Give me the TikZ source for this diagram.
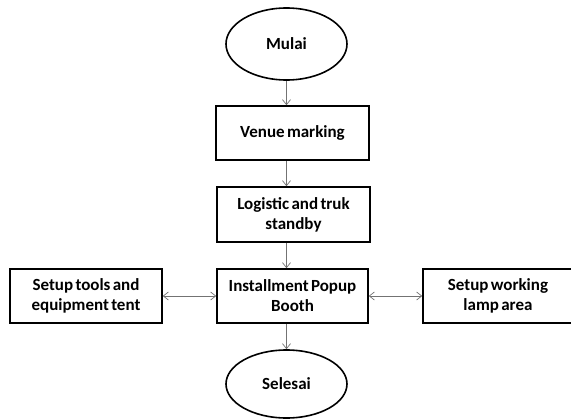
\documentclass[tikz,border=0pt]{standalone}
\usepackage{fontspec}
\setmainfont[WordSpace=0.6]{Carlito}
\usetikzlibrary{shapes.geometric,arrows.meta}
\begin{document}
\begin{tikzpicture}[x=1pt,y=-1pt,
  every node/.style={font=\bfseries\fontsize{17}{20}\selectfont, align=center, inner sep=0pt},
  term/.style={ellipse, draw=black, line width=1.6pt, minimum width=121pt},
  proc/.style={rectangle, draw=black, line width=1.6pt, minimum height=54pt},
  flow/.style={draw=black!55, line width=0.7pt, -{Straight Barb[length=5pt,width=8pt]}},
  both/.style={draw=black!55, line width=0.7pt, {Straight Barb[length=5pt,width=8pt]}-{Straight Barb[length=5pt,width=8pt]}}
]
\useasboundingbox (0,0) rectangle (571,420);

\node[term, minimum height=72pt] (mulai) at (286.5,44) {Mulai};
\node[proc, minimum width=153pt] (venue) at (292.5,133) {Venue marking};
\node[proc, minimum width=153pt, minimum height=55pt] (logistic) at (293.5,214.5) {Logistic and truk\\standby};
\node[proc, minimum width=151pt] (install) at (292.5,296) {Installment Popup\\Booth};
\node[proc, minimum width=152pt] (tools) at (86,296) {Setup tools and\\equipment tent};
\node[proc, minimum width=150pt] (lamp) at (498,296) {Setup working\\lamp area};
\node[term, minimum height=68pt] (selesai) at (286.5,384) {Selesai};

\draw[flow] (mulai.south) -- (mulai.south |- venue.north);
\draw[flow] (mulai.south |- venue.south) -- (mulai.south |- logistic.north);
\draw[flow] (mulai.south |- logistic.south) -- (mulai.south |- install.north);
\draw[flow] (mulai.south |- install.south) -- (selesai.north);
\draw[both] (tools.east) -- (install.west);
\draw[both] (install.east) -- (lamp.west);
\end{tikzpicture}
\end{document}
